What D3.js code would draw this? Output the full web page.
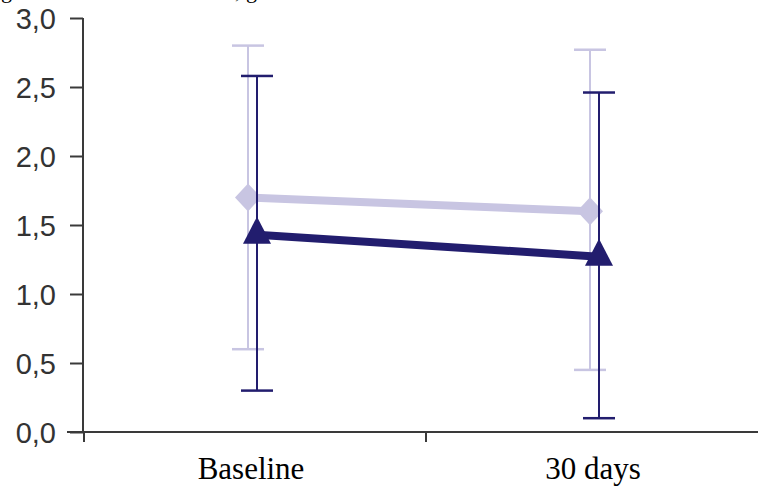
<!DOCTYPE html>
<html><head><meta charset="utf-8">
<script src="https://cdn.jsdelivr.net/npm/d3@7"></script>
<style>html,body{margin:0;padding:0;background:#fff;}svg{display:block;}</style>
</head><body>
<svg id="c" width="758" height="488"></svg>
<script>
const categories = ["Baseline", "30 days"];
const yTicks = [0, 0.5, 1.0, 1.5, 2.0, 2.5, 3.0];
const lightMean = [1.70, 1.60];
const lightUpper = [2.80, 2.77];
const lightLower = [0.60, 0.45];
const darkMean = [1.43, 1.27];
const darkUpper = [2.58, 2.46];
const darkLower = [0.30, 0.10];

const svg = d3.select("#c");
const x = d3.scaleBand().domain(categories).range([84, 768]);
const y = d3.scaleLinear().domain([0, 3]).range([432, 18]);
const cx = c => x(c) + x.bandwidth() / 2;

const LIGHT = "#c8c5e2", DARK = "#221d6e", AXIS = "#3a3a3a";

// cut caption fragments at top (cut off in the reference too)
svg.append("text").attr("x", 1).attr("y", -2).attr("font-family", "Liberation Serif")
  .attr("font-size", 22).attr("fill", "#000").text("g");
svg.append("text").attr("x", 235).attr("y", -2).attr("font-family", "Liberation Serif")
  .attr("font-size", 22).attr("fill", "#000").text(", g");

// y axis
const yAxis = svg.append("g").attr("transform", "translate(83,0)")
  .call(d3.axisLeft(y).tickValues(yTicks).tickSize(13).tickSizeOuter(0).tickPadding(14)
    .tickFormat(d => d3.format(".1f")(d).replace(".", ",")));
yAxis.selectAll("path,line").attr("stroke", AXIS).attr("stroke-width", 2);
yAxis.selectAll("text").attr("font-family", "Liberation Sans, Arial, sans-serif")
  .attr("font-size", 29).attr("fill", "#333").attr("dy", "0.36em");
yAxis.select(".domain").attr("d", `M0,${y(3)}V${y(0)}`);

// x axis
const xg = svg.append("g");
xg.append("line").attr("x1", 67).attr("x2", 758).attr("y1", y(0)).attr("y2", y(0))
  .attr("stroke", AXIS).attr("stroke-width", 2);
xg.selectAll("line.tk").data(categories).join("line").attr("class", "tk")
  .attr("x1", d => x(d)).attr("x2", d => x(d))
  .attr("y1", y(0)).attr("y2", y(0) + 10).attr("stroke", AXIS).attr("stroke-width", 2);
xg.selectAll("text").data(categories).join("text")
  .attr("x", d => cx(d) - 4).attr("y", 479).attr("text-anchor", "middle")
  .attr("font-family", "Liberation Serif, Times New Roman, serif").attr("font-size", 31)
  .attr("fill", "#000").text(d => d);

function series(mean, up, lo, color, off, marker, lw) {
  const g = svg.append("g");
  const px = i => cx(categories[i]) + off;
  categories.forEach((c, i) => {
    g.append("line").attr("x1", px(i)).attr("x2", px(i)).attr("y1", y(up[i])).attr("y2", y(lo[i]))
      .attr("stroke", color).attr("stroke-width", 2);
    [up[i], lo[i]].forEach(v => g.append("line").attr("x1", px(i) - 16).attr("x2", px(i) + 16)
      .attr("y1", y(v)).attr("y2", y(v)).attr("stroke", color).attr("stroke-width", 2.5));
  });
  g.append("path").datum(mean).attr("fill", "none").attr("stroke", color).attr("stroke-width", lw)
    .attr("d", d3.line().x((d, i) => px(i)).y(d => y(d)));
  g.selectAll("path.m").data(mean).join("path").attr("class", "m")
    .attr("transform", (d, i) => `translate(${px(i)},${y(d)})`)
    .attr("d", marker).attr("fill", color);
}
series(lightMean, lightUpper, lightLower, LIGHT, -7, "M0,-14L13,0L0,14L-13,0Z", 8);
series(darkMean, darkUpper, darkLower, DARK, 2, "M0,-18L14,9L-14,9Z", 8);
</script>
</body></html>
